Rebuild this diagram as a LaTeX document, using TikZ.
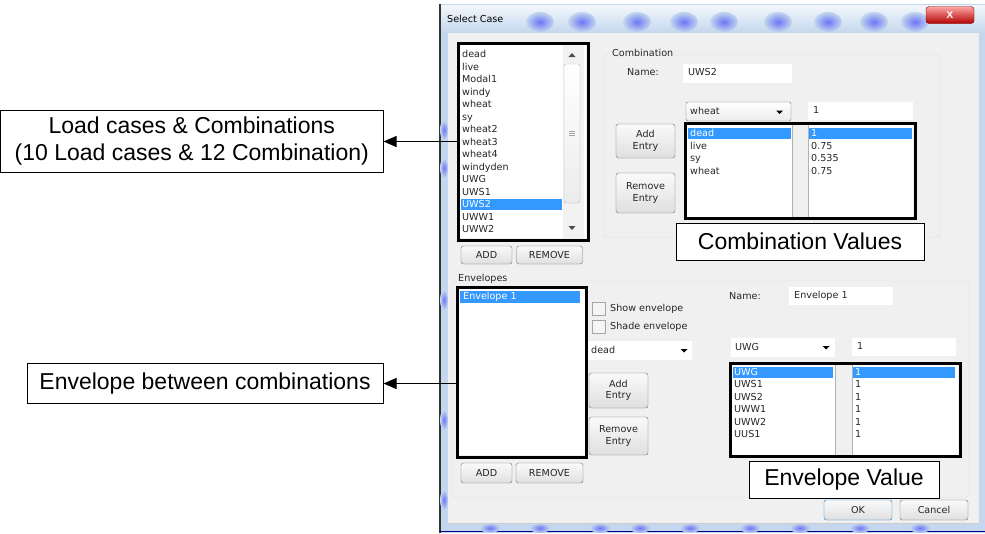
\documentclass[tikz,border=0pt]{standalone}
\usepackage{fontspec}
\setmainfont{Liberation Sans}
\newfontfamily\uifont{DejaVu Sans}
\usetikzlibrary{arrows.meta,shadings}
\definecolor{clientbg}{HTML}{F0F0F0}
\definecolor{selblue}{HTML}{3399FF}
\definecolor{framebl}{HTML}{C4D7EE}
\definecolor{btnline}{HTML}{707070}
\definecolor{grpline}{HTML}{D5DFE5}
\definecolor{fieldline}{HTML}{D0D3D8}
\tikzset{
  ann/.style={draw=black, line width=1pt, fill=white, font=\fontsize{23}{27}\selectfont, align=center, inner sep=0pt},
  dt/.style={font=\uifont\fontsize{9.6}{11}\selectfont, inner sep=0pt, anchor=west, text=black!85, text height=7pt, text depth=2pt},
  seltxt/.style={dt, text=white},
  btn/.style={draw=btnline, rounded corners=2.5pt, top color=white!96!gray, bottom color=gray!25, font=\uifont\fontsize{9.6}{11.5}\selectfont, align=center, inner sep=0pt, text=black!85},
  fieldbox/.style={draw=fieldline, fill=white},
  thickbox/.style={draw=black, line width=3pt, inner sep=0pt},
  arr/.style={-{Triangle[length=13pt,width=11pt]}, line width=1pt},
  blob/.style={inner color=blue!45!framebl, outer color=framebl},
}
\begin{document}
\begin{tikzpicture}[x=1pt,y=-1pt]
\useasboundingbox (0,0) rectangle (985,533);
% window frame
\fill[framebl] (440,4) rectangle (985,533);
\draw[gray!40!black, line width=1.2pt] (440,4) -- (440,533);
\shade[top color=white!80!framebl, bottom color=framebl] (441,5) rectangle (985,33);
\foreach \x in {540,582,637,684,724,778,828,874,915} { \shade[blob] (\x,22) ellipse (14pt and 10pt); }
\foreach \y in {130,168,300,420,500} { \shade[blob] (444,\y) ellipse (4pt and 10pt); }
\draw[blue!55!black, line width=1.5pt] (440,531.5) -- (985,531.5);
\foreach \x in {490,540,600,640,690,750,800,860,920} { \shade[blob] (\x,528) ellipse (10pt and 5pt); }
\node[dt, text=black] (title) at (447,20) {Select Case};
\node[draw=red!45!black, rounded corners=3pt, top color=red!35!white, bottom color=red!70!black, minimum width=48, minimum height=17, inner sep=0pt, text=white, font=\bfseries\fontsize{10}{10}\selectfont] (close) at (950,15) {X};
% client area
\fill[clientbg] (448,33) rectangle (979,523);
\draw[gray!40] (448,523) -- (979,523);

% ---------- load cases list ----------
\fill[white] (460,45) rectangle (586,238);
\fill[gray!10] (563,45) rectangle (584,238);
\draw[gray!60, top color=white, bottom color=gray!15, rounded corners=2pt] (564,64) rectangle (580,203);
\foreach \dy in {-2,0,2} { \draw[gray!70] (569,133+\dy) -- (575,133+\dy); }
\fill[black!70] (572,53) -- (568.5,57) -- (575.5,57) -- cycle;
\fill[black!70] (572,230) -- (568.5,226) -- (575.5,226) -- cycle;
\fill[selblue] (461,199) rectangle (562,210);
\foreach \t [count=\i from 0] in {dead,live,Modal1,windy,wheat,sy,wheat2,wheat3,wheat4,windyden,UWG,UWS1,UWS2,UWW1,UWW2} {
  \ifnum\i=12
    \node[seltxt] (lc\i) at (462,55+12.5*\i) {\t};
  \else
    \node[dt] (lc\i) at (462,55+12.5*\i) {\t};
  \fi
}
\node[thickbox, minimum width=130, minimum height=197] (lclist) at (523,141.5) {};
\node[btn, minimum width=51, minimum height=18] (addlc) at (486.5,255) {ADD};
\node[btn, minimum width=66, minimum height=18] (remlc) at (549.5,255) {REMOVE};

% ---------- combination group ----------
\draw[grpline, rounded corners=3pt] (604,55) rectangle (940,237);
\node[dt, fill=clientbg, inner xsep=1pt] (combo) at (611,54) {Combination};
\node[dt] (namec) at (627,73) {Name:};
\fill[white] (683,64) rectangle (792,83);
\node[dt] (namecv) at (688,73) {UWS2};
\draw[btnline, top color=white, bottom color=gray!15, rounded corners=2pt] (686,102) rectangle (791,121);
\node[dt] (ddc) at (690,112) {wheat};
\fill (776,110.5) -- (783,110.5) -- (779.5,114) -- cycle;
\fill[white] (808,102) rectangle (913,120);
\node[dt] (facc) at (813,111) {1};
\fill[white] (686,125) rectangle (792,217);
\fill[gray!12] (792,125) rectangle (808,217);
\draw[gray!60] (792,125) -- (792,217) (808,125) -- (808,217);
\fill[white] (808.5,125) rectangle (913,217);
\fill[selblue] (688,128) rectangle (791,139);
\fill[selblue] (809,128) rectangle (912,139);
\foreach \t [count=\i from 0] in {dead,live,sy,wheat} {
  \ifnum\i=0 \node[seltxt] (cl\i) at (690,134+12.5*\i) {\t};
  \else \node[dt] (cl\i) at (690,134+12.5*\i) {\t}; \fi
}
\foreach \t [count=\i from 0] in {1,0.75,0.535,0.75} {
  \ifnum\i=0 \node[seltxt] (cv\i) at (811,134+12.5*\i) {\t};
  \else \node[dt] (cv\i) at (811,134+12.5*\i) {\t}; \fi
}
\node[thickbox, minimum width=230, minimum height=95] (cvals) at (800,170.5) {};
\node[btn, minimum width=59, minimum height=34] (addc) at (645.5,141) {Add\\Entry};
\node[btn, minimum width=59, minimum height=40] (remc) at (645.5,193) {Remove\\Entry};
\node[ann, minimum width=248, minimum height=37] (cvann) at (800,241.5) {Combination Values};

% ---------- envelopes group ----------
\draw[grpline, rounded corners=3pt] (452,281) rectangle (969,497);
\node[dt, fill=clientbg, inner xsep=1pt] (envlbl) at (457,279) {Envelopes};
\fill[white] (459,289) rectangle (585,455);
\fill[selblue] (460,291) rectangle (580,303);
\node[seltxt] (env1) at (463,297) {Envelope 1};
\node[thickbox, minimum width=129, minimum height=170] (envlist) at (521.5,372) {};
\draw[gray!70, fill=gray!8] (592,302) rectangle (605,315);
\node[dt] (showenv) at (610,308.5) {Show envelope};
\draw[gray!70, fill=gray!8] (592,320) rectangle (605,333);
\node[dt] (shadeenv) at (610,326.5) {Shade envelope};
\fill[white] (588,341) rectangle (692,360);
\node[dt] (dde) at (591,350.5) {dead};
\fill (680.5,349) -- (687.5,349) -- (684,352.5) -- cycle;
\node[btn, minimum width=59, minimum height=35] (adde) at (618.5,390.5) {Add\\Entry};
\node[btn, minimum width=59, minimum height=38] (reme) at (618.5,436) {Remove\\Entry};
\node[btn, minimum width=51, minimum height=20] (addenv) at (486.5,473) {ADD};
\node[btn, minimum width=67, minimum height=20] (remenv) at (549.5,473) {REMOVE};

\node[dt] (namee) at (729,297) {Name:};
\fill[white] (789,287) rectangle (893,305);
\node[dt] (nameev) at (794,296) {Envelope 1};
\fill[white] (731,338) rectangle (835,357);
\node[dt] (ddu) at (735,347.5) {UWG};
\fill (822.5,346) -- (829.5,346) -- (826,349.5) -- cycle;
\fill[white] (852,338) rectangle (956,356);
\node[dt] (face) at (857,347) {1};
\fill[white] (732,365) rectangle (835,455);
\fill[gray!12] (835,365) rectangle (852,455);
\draw[gray!60] (835,365) -- (835,455) (852,365) -- (852,455);
\fill[white] (852.5,365) rectangle (958,455);
\fill[selblue] (733,367) rectangle (833,378);
\fill[selblue] (853,367) rectangle (955,378);
\foreach \t [count=\i from 0] in {UWG,UWS1,UWS2,UWW1,UWW2,UUS1} {
  \ifnum\i=0 \node[seltxt] (el\i) at (734,373+12.4*\i) {\t};
  \else \node[dt] (el\i) at (734,373+12.4*\i) {\t}; \fi
}
\foreach \i in {0,...,5} {
  \ifnum\i=0 \node[seltxt] (ev\i) at (855,373+12.4*\i) {1};
  \else \node[dt] (ev\i) at (855,373+12.4*\i) {1}; \fi
}
\node[thickbox, minimum width=230, minimum height=93] (evals) at (845,409.5) {};
\node[ann, minimum width=190, minimum height=37] (evann) at (844,479.5) {Envelope Value};
\node[btn, draw=cyan!60!blue, minimum width=68, minimum height=20] (okb) at (858,510) {OK};
\node[btn, minimum width=68, minimum height=20] (cancelb) at (934,510) {Cancel};

% ---------- annotations ----------
\node[ann, minimum width=382.5, minimum height=62] (lcann) at (191.75,141.5) {Load cases \& Combinations\\(10 Load cases \& 12 Combination)};
\node[ann, minimum width=356, minimum height=40] (envann) at (205,383.5) {Envelope between combinations};
\draw[arr] (lclist.west |- lcann.east) -- (lcann.east);
\draw[arr] (envlist.west |- envann.east) -- (envann.east);
\end{tikzpicture}
\end{document}
